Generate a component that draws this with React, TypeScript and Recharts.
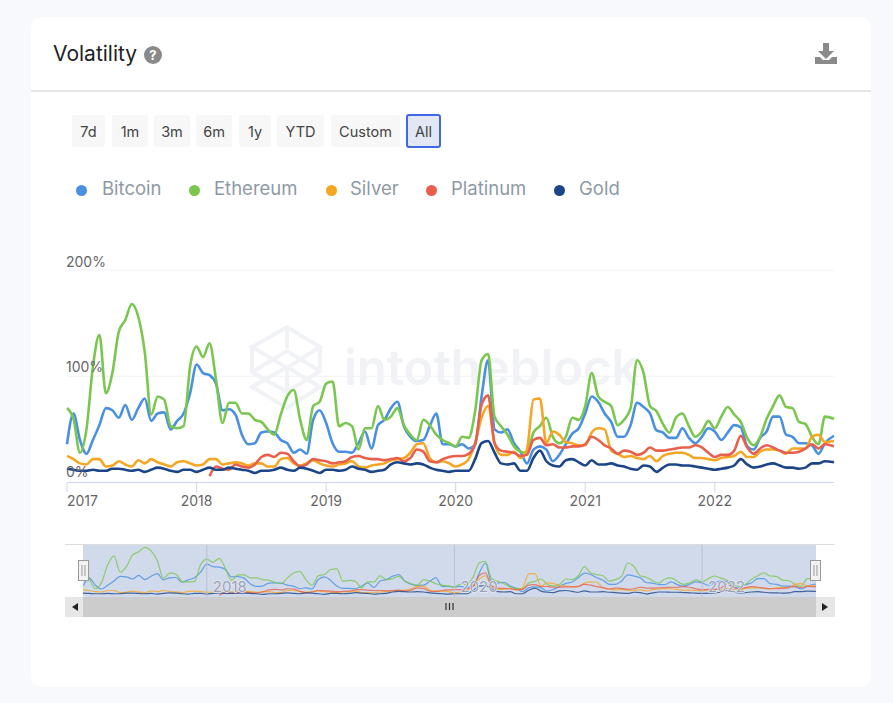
import React from 'react';
import { CartesianGrid, Line, LineChart, ReferenceLine, XAxis, YAxis } from 'recharts';

const bitcoin = [
  36, 65, 40, 27, 40, 54, 70, 68, 61, 73,
  59, 70, 79, 58, 65, 66, 50, 58, 65, 84,
  111, 103, 101, 93, 68, 69, 64, 45, 36, 37,
  47, 48, 47, 40, 37, 28, 31, 27, 59, 68,
  56, 37, 29, 29, 28, 37, 48, 32, 54, 59,
  70, 76, 53, 43, 39, 40, 53, 65, 36, 36,
  34, 36, 32, 36, 81, 115, 50, 47, 50, 37,
  29, 18, 31, 34, 31, 20, 26, 36, 46, 51,
  65, 81, 76, 65, 57, 43, 43, 54, 75, 71,
  65, 49, 47, 42, 42, 51, 42, 37, 43, 51,
  48, 40, 47, 54, 52, 34, 31, 42, 48, 62,
  62, 45, 43, 37, 37, 35, 27, 37, 44,
];
const ethereum = [
  70, 60, 28, 50, 109, 139, 84, 103, 142, 153,
  168, 156, 123, 64, 81, 78, 53, 51, 53, 109,
  128, 118, 131, 97, 56, 75, 75, 65, 65, 59,
  57, 50, 45, 64, 81, 87, 59, 40, 72, 76,
  93, 95, 53, 56, 53, 31, 51, 51, 72, 59,
  62, 70, 54, 45, 40, 59, 54, 45, 40, 37,
  34, 43, 42, 67, 115, 121, 62, 53, 45, 34,
  29, 28, 47, 53, 61, 43, 37, 43, 61, 59,
  72, 103, 81, 76, 72, 54, 59, 70, 115, 103,
  72, 67, 55, 47, 61, 65, 53, 43, 48, 58,
  51, 62, 71, 64, 57, 42, 35, 43, 60, 72,
  82, 71, 70, 57, 55, 43, 36, 62, 60,
];
const silver = [
  25, 22, 18, 17, 22, 22, 15, 16, 20, 17,
  15, 21, 18, 22, 19, 17, 15, 19, 20, 18,
  16, 17, 22, 22, 17, 18, 19, 18, 16, 18,
  18, 15, 15, 22, 23, 18, 16, 18, 21, 18,
  16, 15, 17, 18, 20, 15, 14, 16, 17, 18,
  21, 22, 23, 28, 36, 37, 23, 19, 20, 18,
  15, 17, 22, 37, 61, 72, 37, 26, 26, 29,
  23, 31, 78, 79, 37, 48, 45, 38, 37, 35,
  35, 47, 51, 50, 30, 27, 24, 25, 23, 22,
  25, 20, 25, 27, 28, 28, 26, 23, 23, 22,
  21, 23, 24, 25, 29, 24, 24, 29, 31, 31,
  30, 27, 32, 32, 32, 43, 45, 38, 39,
];
// platinum only starts in early 2018
const platinum = [
  null, null, null, null, null, null, null, null, null, null,
  null, null, null, null, null, null, null, null, null, null,
  null, null, 6, 15, 13, 12, 17, 15, 14, 17,
  24, 26, 24, 28, 27, 20, 15, 17, 22, 21,
  20, 18, 19, 20, 24, 25, 23, 22, 22, 21,
  22, 23, 20, 23, 31, 29, 20, 19, 22, 24,
  25, 25, 27, 36, 73, 82, 37, 30, 29, 28,
  25, 26, 40, 42, 35, 36, 33, 33, 34, 34,
  36, 43, 40, 35, 32, 27, 30, 29, 26, 28,
  33, 30, 30, 31, 32, 33, 33, 35, 33, 28,
  24, 26, 26, 30, 44, 33, 27, 32, 35, 33,
  30, 28, 28, 29, 32, 36, 32, 36, 34,
];
const gold = [
  13, 12, 11, 11, 12, 11, 11, 13, 13, 12,
  11, 12, 10, 12, 14, 13, 11, 10, 12, 12,
  10, 12, 14, 12, 12, 14, 13, 12, 11, 9,
  11, 11, 12, 14, 12, 11, 14, 13, 11, 9,
  12, 12, 11, 12, 15, 13, 12, 10, 11, 12,
  17, 19, 18, 17, 18, 17, 14, 12, 11, 10,
  11, 11, 11, 22, 37, 39, 28, 18, 17, 18,
  11, 11, 23, 30, 20, 16, 15, 21, 22, 19,
  16, 21, 17, 17, 18, 16, 15, 13, 12, 16,
  15, 10, 14, 17, 17, 16, 16, 15, 14, 13,
  12, 13, 14, 16, 22, 17, 14, 15, 17, 18,
  16, 14, 14, 13, 14, 18, 18, 20, 19,
];

const LAST_YEAR = 2022.92;
const years = bitcoin.map((_, i) => (i < bitcoin.length - 1 ? 2017 + i * 0.05 : LAST_YEAR));
const rows = years.map((year, i) => ({
  year,
  bitcoin: bitcoin[i],
  ethereum: ethereum[i],
  silver: silver[i],
  platinum: platinum[i],
  gold: gold[i],
}));

const seriesKeys = ['bitcoin', 'ethereum', 'silver', 'platinum', 'gold'];
const seriesNames = ['Bitcoin', 'Ethereum', 'Silver', 'Platinum', 'Gold'];
const seriesColors = ['#4a90e2', '#7ac74f', '#f5a623', '#e8604c', '#1c4587'];
const legendDotX = [81, 194, 331, 431, 559];
const legendTextX = [102, 214, 350, 451, 579];

const xTicks = [2017, 2018, 2019, 2020, 2021, 2022];
const yTicks = [0, 100, 200];
const navTicks = [2018, 2020, 2022];

const rangeLabels = ['7d', '1m', '3m', '6m', '1y', 'YTD', 'Custom', 'All'];
const rangeLeft = [72, 112, 154, 196, 239, 277, 331, 406];
const rangeRight = [105, 148, 190, 232, 271, 324, 400, 441];

const FONT = 'Inter, "Noto Sans", sans-serif';

const abs = (left: number, top: number, width: number, height: number): React.CSSProperties => ({
  position: 'absolute',
  left,
  top,
  width,
  height,
});

const XTick = ({ x, y, payload }: any) => (
  <text
    x={x}
    y={y + 11}
    textAnchor={payload.value === 2017 ? 'start' : 'middle'}
    fontFamily={FONT}
    fontSize={14}
    fill="#666"
  >
    {payload.value}
  </text>
);

// labels sit a little closer together than the grid lines
const YTick = ({ y, payload }: any) => (
  <text x={66} y={y - (payload.value === 0 ? 6 : payload.value === 100 ? 4 : 3)} fontFamily={FONT} fontSize={14} fill="#666">
    {payload.value}%
  </text>
);

const NavLabel = ({ viewBox, value }: any) => (
  <text
    x={viewBox.x + 6}
    y={47}
    fontFamily={FONT}
    fontSize={15}
    fill="#9aa1b3"
    stroke="#e4e9f3"
    strokeWidth={1.5}
    paintOrder="stroke"
  >
    {value}
  </text>
);

const Watermark = () => (
  <>
    <svg style={abs(248, 322, 80, 92)} viewBox="248 322 80 92" fill="none" stroke="#f0f2f6" strokeWidth={4}>
      <path d="M252 347 L287 327 L320 347 L287 368 Z" />
      <path d="M252 347 L252 372 L287 392 L320 371 L320 347" />
      <path d="M287 327 L287 348 M252 372 L287 351 L320 371" />
      <path d="M252 387 L287 367 L320 387 L287 408 Z" />
      <path d="M287 368 L287 392" />
    </svg>
    <div
      style={{
        ...abs(344, 338, 320, 60),
        fontFamily: FONT,
        fontSize: 49,
        lineHeight: '60px',
        fontWeight: 600,
        color: '#f0f2f6',
        whiteSpace: 'nowrap',
      }}
    >
      intotheblock
    </div>
  </>
);

const Header = () => (
  <>
    <div
      style={{
        ...abs(53, 40, 100, 28),
        fontFamily: FONT,
        fontSize: 21,
        lineHeight: '28px',
        color: '#222',
      }}
    >
      Volatility
    </div>
    <svg style={abs(144, 46, 18, 18)} viewBox="0 0 18 18">
      <circle cx={9} cy={9} r={9} fill="#8a8a8a" />
      <text x={9} y={14} textAnchor="middle" fontFamily={FONT} fontSize={13} fontWeight={700} fill="#fff">
        ?
      </text>
    </svg>
    <svg style={abs(814, 42, 24, 24)} viewBox="0 0 24 24" fill="#8a8a8a">
      <path d="M9 1 H15 V9 H20 L12 17 L4 9 H9 Z" />
      <path d="M1 15 H6 L9 18 H15 L18 15 H23 V22 H1 Z" />
    </svg>
    <div style={{ ...abs(31, 90, 840, 2), background: '#e6e6e6' }} />
  </>
);

const RangeButtons = () => (
  <>
    {rangeLabels.map((label, i) => {
      const active = label === 'All';
      return (
        <div
          key={label}
          style={{
            ...abs(rangeLeft[i], active ? 114 : 115, rangeRight[i] - rangeLeft[i], active ? 34 : 32),
            boxSizing: 'border-box',
            background: active ? '#e2e7f3' : '#f7f7f7',
            border: active ? '2px solid #3f68e8' : 'none',
            borderRadius: 3,
            fontFamily: FONT,
            fontSize: 14.5,
            lineHeight: active ? '31px' : '33px',
            textAlign: 'center',
            color: '#444',
          }}
        >
          {label}
        </div>
      );
    })}
  </>
);

const LegendRow = () => (
  <>
    {seriesNames.map((name, i) => (
      <React.Fragment key={name}>
        <div
          style={{
            ...abs(legendDotX[i] - 5.5, 184.5, 11, 11),
            borderRadius: '50%',
            background: seriesColors[i],
          }}
        />
        <div
          style={{
            ...abs(legendTextX[i], 176, 90, 24),
            fontFamily: FONT,
            fontSize: 18.5,
            lineHeight: '24px',
            color: '#8e99a3',
          }}
        >
          {name}
        </div>
      </React.Fragment>
    ))}
  </>
);

const Handle = ({ x }: { x: number }) => (
  <svg style={abs(x, 560, 12, 22)} viewBox="0 0 12 22">
    <rect x={0.5} y={0.5} width={10} height={20} fill="#f2f2f2" stroke="#999" />
    <path d="M4 5 V16 M7 5 V16" stroke="#999" />
  </svg>
);

const Scrollbar = () => (
  <>
    <div style={{ ...abs(65, 544, 770, 1), background: '#dcdcdc' }} />
    <div style={{ ...abs(65, 597, 770, 20), background: '#e6e6e6' }} />
    <div style={{ ...abs(83, 597, 733, 20), background: '#cccccc' }} />
    <svg style={abs(65, 597, 770, 20)} viewBox="0 0 770 20">
      <path d="M13 6 L7 10 L13 14 Z" fill="#222" />
      <path d="M757 6 L763 10 L757 14 Z" fill="#222" />
      <path d="M381 6 V13 M384.5 6 V13 M388 6 V13" stroke="#333" strokeWidth={1.2} />
    </svg>
  </>
);

const MainChart = () => (
  <div style={abs(0, 0, 893, 560)}>
    <LineChart width={893} height={560} data={rows} margin={{ top: 270, right: 59, bottom: 47.5, left: 67 }}>
      <CartesianGrid vertical={false} stroke="#f1f2f6" />
      <XAxis
        dataKey="year"
        type="number"
        domain={[2017, LAST_YEAR]}
        ticks={xTicks}
        height={30}
        stroke="#ccd6eb"
        tickSize={10}
        tick={<XTick />}
        interval={0}
      />
      <YAxis mirror domain={[0, 200]} ticks={yTicks} axisLine={false} tickLine={false} tick={<YTick />} />
      {seriesKeys.map((key, i) => (
        <Line
          key={key}
          dataKey={key}
          stroke={seriesColors[i]}
          strokeWidth={2.6}
          dot={false}
          type="monotone"
          isAnimationActive={false}
        />
      ))}
    </LineChart>
  </div>
);

const Navigator = () => (
  <div style={{ ...abs(83, 545, 733, 52), background: '#d1daeb' }}>
    <LineChart width={733} height={52} data={rows} margin={{ top: 0, right: 0, bottom: 0, left: 0 }}>
      <XAxis dataKey="year" type="number" domain={[2017, LAST_YEAR]} hide />
      <YAxis domain={[0, 176]} hide />
      {seriesKeys.map((key, i) => (
        <Line
          key={key}
          dataKey={key}
          stroke={seriesColors[i]}
          strokeOpacity={0.8}
          strokeWidth={1.2}
          dot={false}
          type="monotone"
          isAnimationActive={false}
        />
      ))}
      {navTicks.map((t) => (
        <ReferenceLine key={t} x={t} stroke="#b9c1d0" label={<NavLabel value={t} />} />
      ))}
    </LineChart>
  </div>
);

export default function App() {
  return (
    <div style={{ ...abs(0, 0, 893, 703), background: '#f8f9fc', overflow: 'hidden' }}>
      <div style={{ ...abs(31, 17, 840, 670), background: '#fff', borderRadius: 10 }} />
      <Header />
      <RangeButtons />
      <LegendRow />
      <Watermark />
      <MainChart />
      <Scrollbar />
      <Navigator />
      <Handle x={78} />
      <Handle x={810} />
    </div>
  );
}
